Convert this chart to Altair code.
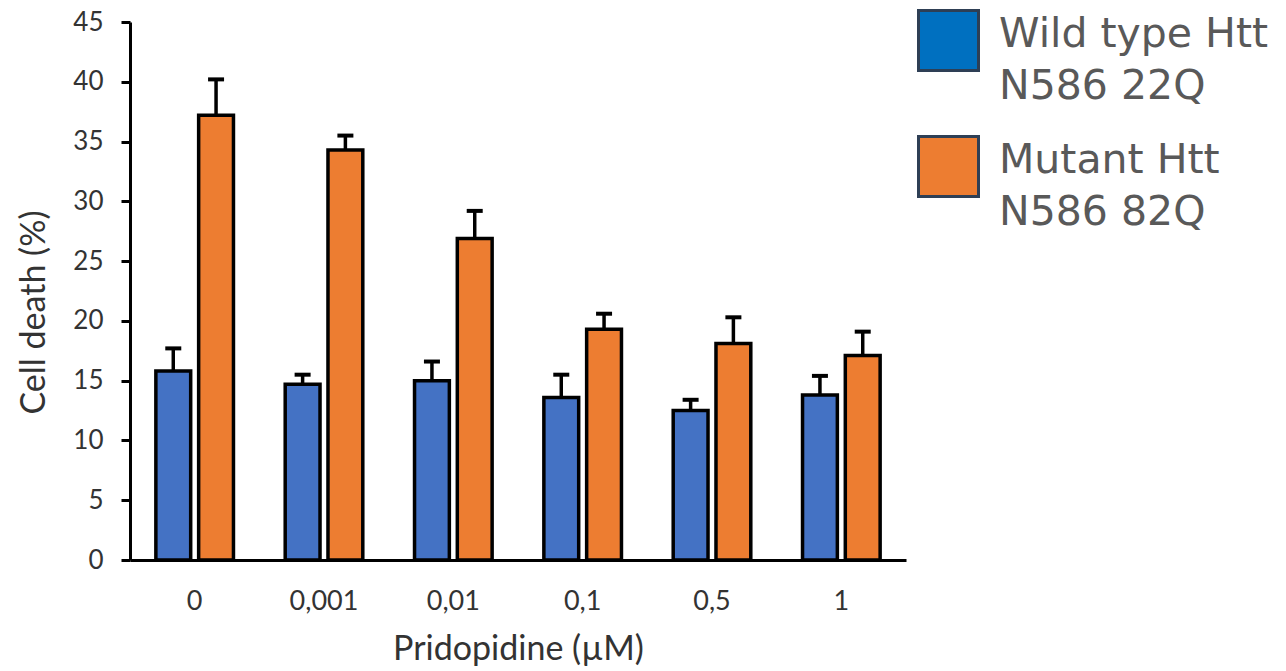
import altair as alt
import pandas as pd

doses = ["0", "0,001", "0,01", "0,1", "0,5", "1"]
groups = ["Wild type Htt|N586 22Q", "Mutant Htt|N586 82Q"]
wild_mean = [15.8, 14.7, 15.0, 13.6, 12.5, 13.8]
wild_err = [1.9, 0.8, 1.6, 1.9, 0.9, 1.6]
mut_mean = [37.2, 34.3, 26.9, 19.3, 18.1, 17.1]
mut_err = [3.0, 1.2, 2.3, 1.3, 2.2, 2.0]
bar_colors = ["#4472C4", "#ED7D31"]
legend_colors = ["#0070C0", "#ED7D31"]

rows = []
for i, d in enumerate(doses):
    rows.append({"dose": d, "group": groups[0], "series": groups[0], "mean": wild_mean[i], "top": wild_mean[i] + wild_err[i]})
    rows.append({"dose": d, "group": groups[1], "series": groups[1], "mean": mut_mean[i], "top": mut_mean[i] + mut_err[i]})
df = pd.DataFrame(rows)

FONT = "Lato"
LABEL_DY = -6  # shared guide-label shift (lifts legend text); axes compensate below

x = alt.X("dose:N", sort=doses, title="Pridopidine (µM)",
          scale=alt.Scale(paddingInner=0.4, paddingOuter=0.2),
          axis=alt.Axis(labelAngle=0, ticks=False, domainColor="black", domainWidth=3,
                        labelFont=FONT, labelFontSize=27, labelColor="#333333",
                        labelPadding=28 - LABEL_DY,
                        titleFont=FONT, titleFontSize=34, titleFontWeight="normal",
                        titleColor="#333333", titlePadding=18))
xo = alt.XOffset("group:N", sort=groups, scale=alt.Scale(paddingInner=0.186, paddingOuter=0))
y_scale = alt.Scale(domain=[0, 45], nice=False)
y_axis = alt.Axis(values=list(range(0, 50, 5)), grid=False, domainColor="black", domainWidth=3,
                  tickColor="black", tickWidth=3, tickSize=9,
                  labelFont=FONT, labelFontSize=26, labelColor="#333333", labelPadding=18,
                  labelOffset=-LABEL_DY,
                  titleFont=FONT, titleFontSize=34, titleFontWeight="normal",
                  titleColor="#333333", titlePadding=21, titleY=290)

# legend carrier: small squares hidden behind the bars
legend_layer = alt.Chart(df).mark_square(filled=True).encode(
    x=x, xOffset=xo, y=alt.datum(2),
    color=alt.Color("series:N", sort=groups,
                    scale=alt.Scale(domain=groups, range=legend_colors),
                    legend=alt.Legend(title=None, orient="none", legendX=787, legendY=-13,
                                      symbolType="square", symbolSize=3600,
                                      symbolStrokeColor="#2E3F55", symbolStrokeWidth=3,
                                      symbolOpacity=1,
                                      labelFont="DejaVu Sans", labelFontSize=41,
                                      labelColor="#595959", labelOffset=19, labelLimit=400,
                                      labelExpr="split(datum.label, '|')",
                                      rowPadding=23)),
)

bars = alt.Chart(df).mark_bar(stroke="black", strokeWidth=3.5).encode(
    x=x,
    xOffset=xo,
    y=alt.Y("mean:Q", scale=y_scale, title="Cell death (%)", axis=y_axis),
    fill=alt.Fill("group:N", sort=groups, scale=alt.Scale(domain=groups, range=bar_colors), legend=None),
)

rules = alt.Chart(df).mark_rule(color="black", strokeWidth=3.5).encode(
    x=x, xOffset=xo, y=alt.Y("mean:Q", scale=y_scale), y2="top:Q"
)
caps = alt.Chart(df).mark_tick(color="black", size=16, thickness=4, opacity=1).encode(
    x=x, xOffset=xo, y=alt.Y("top:Q", scale=y_scale)
)

chart = alt.layer(legend_layer, rules, bars, caps).properties(
    width=776, height=538, background="white",
    padding={"left": 9, "top": 1, "right": 5, "bottom": 5},
).resolve_scale(color="independent").configure(
    style={"guide-label": {"lineHeight": 52, "dy": LABEL_DY}},
    view=alt.ViewConfig(stroke=None),
)
chart.save("out.html", embed_options={"renderer": "svg", "actions": False})
